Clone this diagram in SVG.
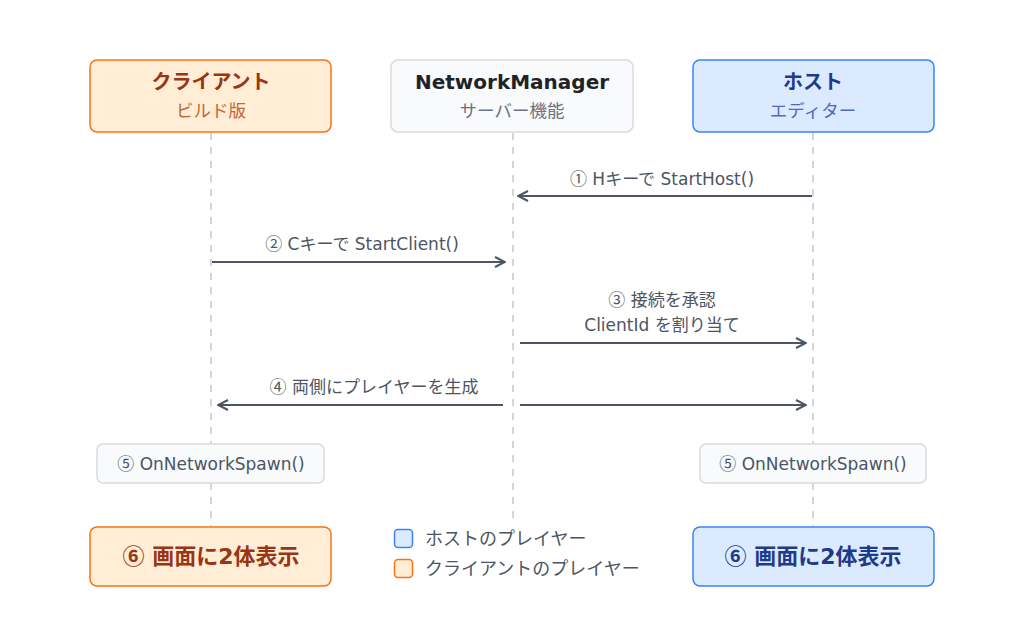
<svg xmlns="http://www.w3.org/2000/svg" width="1024" height="620" viewBox="0 0 1024 620">
<style>
text{font-family:"DejaVu Sans","Noto Sans CJK JP",sans-serif;text-anchor:middle}
.c{font-family:"Noto Sans CJK JP",sans-serif}
.life{stroke:#c4c8ce;stroke-width:1.5;stroke-dasharray:7 7;fill:none}
.arr{stroke:#4b5563;stroke-width:2;fill:none;marker-end:url(#ah)}
.lbl{font-size:17px;fill:#4b5563}
.title{font-size:20px;font-weight:bold}
.sub{font-size:17.5px}
.cli{fill:#ffedd5;stroke:#f97316;stroke-width:1.5}
.hst{fill:#dbeafe;stroke:#3b82f6;stroke-width:1.5}
.nm{fill:#f8fafc;stroke:#d7dbe0;stroke-width:1.5}
.spawn{fill:#f8fafc;stroke:#d7dbe0;stroke-width:1.5}
.big{font-size:22px;font-weight:bold}
.leg{font-size:18px;fill:#4b5563;text-anchor:start}
</style>
<defs>
<marker id="ah" viewBox="0 0 12 12" refX="11" refY="6" markerWidth="12" markerHeight="12" markerUnits="userSpaceOnUse" orient="auto">
<path d="M1,1 L11,6 L1,11" fill="none" stroke="#4b5563" stroke-width="2"/>
</marker>
</defs>
<rect width="1024" height="620" fill="#ffffff"/>
<g id="lifelines">
<line class="life" x1="211" y1="133" x2="211" y2="444"/>
<line class="life" x1="211" y1="483" x2="211" y2="526"/>
<line class="life" x1="513" y1="133" x2="513" y2="518"/>
<line class="life" x1="813" y1="133" x2="813" y2="444"/>
<line class="life" x1="813" y1="483" x2="813" y2="526"/>
</g>
<g id="client">
<rect class="cli" x="90" y="60" width="241" height="72" rx="7"/>
<text class="title" x="211" y="89" fill="#9a3412">クライアント</text>
<text class="sub" x="211" y="117" fill="#c2663b">ビルド版</text>
</g>
<g id="networkmanager">
<rect class="nm" x="391" y="60" width="242" height="72" rx="7"/>
<text class="title" x="512" y="89" fill="#1f2328" font-size="19.5">NetworkManager</text>
<text class="sub" x="512" y="117" fill="#6b7280">サーバー機能</text>
</g>
<g id="host">
<rect class="hst" x="693" y="60" width="241" height="72" rx="7"/>
<text class="title" x="813" y="89" fill="#1e3a8a">ホスト</text>
<text class="sub" x="813" y="117" fill="#4f68c0">エディター</text>
</g>
<g id="connectors">
<line class="arr" x1="812" y1="196" x2="518" y2="196"/>
<text class="lbl" x="662" y="185"><tspan class="c">①</tspan> Hキーで StartHost()</text>
<line class="arr" x1="212" y1="262" x2="505" y2="262"/>
<text class="lbl" x="362" y="250"><tspan class="c">②</tspan> Cキーで StartClient()</text>
<line class="arr" x1="520" y1="343" x2="806" y2="343"/>
<text class="lbl" x="662" y="306"><tspan class="c">③</tspan> 接続を承認</text>
<text class="lbl" x="662" y="331">ClientId を割り当て</text>
<line class="arr" x1="503" y1="405" x2="218" y2="405"/>
<line class="arr" x1="520" y1="405" x2="806" y2="405"/>
<text class="lbl" x="374" y="393"><tspan class="c">④</tspan> 両側にプレイヤーを生成</text>
</g>
<g id="spawn-client">
<rect class="spawn" x="97" y="444" width="227" height="39" rx="6"/>
<text x="211" y="470" font-size="17" fill="#4b5563"><tspan class="c">⑤</tspan> OnNetworkSpawn()</text>
</g>
<g id="spawn-host">
<rect class="spawn" x="700" y="444" width="226" height="39" rx="6"/>
<text x="813" y="470" font-size="17" fill="#4b5563"><tspan class="c">⑤</tspan> OnNetworkSpawn()</text>
</g>
<g id="result-client">
<rect class="cli" x="90" y="527" width="241" height="59" rx="7"/>
<text class="big" x="211" y="564" fill="#9a3412"><tspan class="c">⑥</tspan> 画面に2体表示</text>
</g>
<g id="result-host">
<rect class="hst" x="693" y="527" width="241" height="59" rx="7"/>
<text class="big" x="813" y="564" fill="#1e3a8a"><tspan class="c">⑥</tspan> 画面に2体表示</text>
</g>
<g id="legend">
<rect x="394.5" y="529.5" width="18" height="18" rx="3.5" fill="#dbeafe" stroke="#3b82f6" stroke-width="1.5"/>
<text class="leg" x="425" y="545">ホストのプレイヤー</text>
<rect x="394.5" y="559.5" width="18" height="18" rx="3.5" fill="#ffedd5" stroke="#f97316" stroke-width="1.5"/>
<text class="leg" x="425" y="575">クライアントのプレイヤー</text>
</g>
</svg>
